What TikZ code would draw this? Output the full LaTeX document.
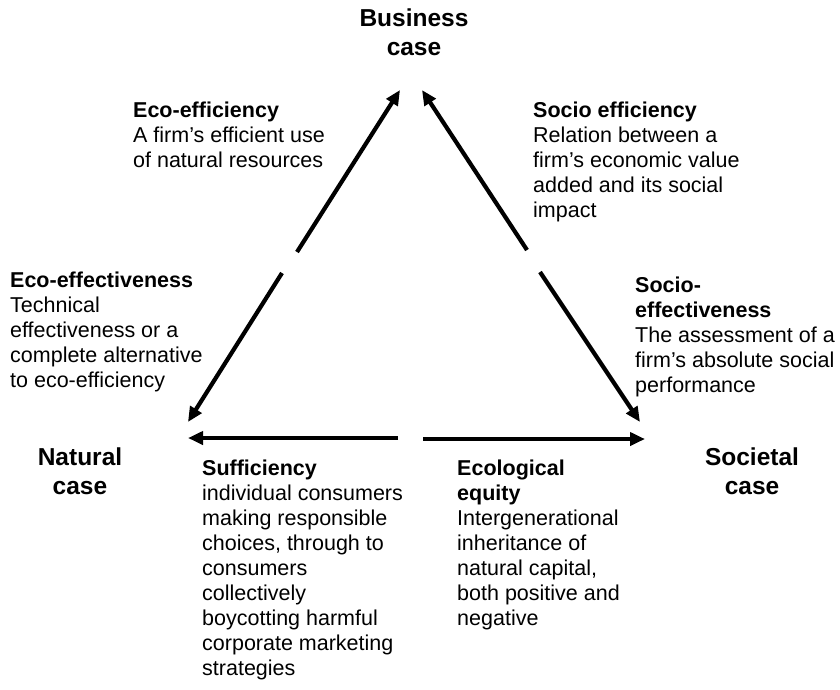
\documentclass[tikz,border=0pt]{standalone}
\usepackage{fontspec}
\setmainfont{Liberation Sans}
\usetikzlibrary{arrows.meta}
\begin{document}
\begin{tikzpicture}[x=1pt,y=-1pt,
  body/.style={anchor=base west, inner sep=0pt, font=\fontsize{21.5}{25}\selectfont},
  corner/.style={anchor=base, inner sep=0pt, font=\fontsize{24.5}{29}\selectfont\bfseries},
  arr/.style={line width=4.2pt, -{Triangle[length=15pt,width=13pt]}}]
\useasboundingbox (0,0) rectangle (840,689);
% corner labels
\node[corner] (business) at (414,26) {\begin{tabular}[t]{@{}c@{}}Business\\case\end{tabular}};
\node[corner] (natural) at (80,465) {\begin{tabular}[t]{@{}c@{}}Natural\\case\end{tabular}};
\node[corner] (societal) at (752,465) {\begin{tabular}[t]{@{}c@{}}Societal\\case\end{tabular}};
% descriptions
\node[body] (ecoeff) at (133,117) {\begin{tabular}[t]{@{}l@{}}\textbf{Eco-efficiency}\\A firm's efficient use\\of natural resources\end{tabular}};
\node[body] (socioeff) at (533,117) {\begin{tabular}[t]{@{}l@{}}\textbf{Socio efficiency}\\Relation between a\\firm's economic value\\added and its social\\impact\end{tabular}};
\node[body] (ecoeffect) at (10,287) {\begin{tabular}[t]{@{}l@{}}\textbf{Eco-effectiveness}\\Technical\\effectiveness or a\\complete alternative\\to eco-efficiency\end{tabular}};
\node[body] (socioeffect) at (635,292) {\begin{tabular}[t]{@{}l@{}}\textbf{Socio-}\\\textbf{effectiveness}\\The assessment of a\\firm's absolute social\\performance\end{tabular}};
\node[body] (suff) at (202,475) {\begin{tabular}[t]{@{}l@{}}\textbf{Sufficiency}\\individual consumers\\making responsible\\choices, through to\\consumers\\collectively\\boycotting harmful\\corporate marketing\\strategies\end{tabular}};
\node[body] (equity) at (457,475) {\begin{tabular}[t]{@{}l@{}}\textbf{Ecological}\\\textbf{equity}\\Intergenerational\\inheritance of\\natural capital,\\both positive and\\negative\end{tabular}};
% arrow end points
\coordinate (lus) at (297,252); \coordinate (lue) at (400,90);
\coordinate (lls) at (282,273); \coordinate (lle) at (188,422);
\coordinate (rus) at (527,250); \coordinate (rue) at (422,90);
\coordinate (rls) at (540,272); \coordinate (rle) at (640,422);
\coordinate (bls) at (398,438); \coordinate (ble) at (188,438);
\coordinate (brs) at (423,439); \coordinate (bre) at (645,439);
\draw[arr] (lus) -- (lue);
\draw[arr] (lls) -- (lle);
\draw[arr] (rus) -- (rue);
\draw[arr] (rls) -- (rle);
\draw[arr] (bls) -- (ble);
\draw[arr] (brs) -- (bre);
\end{tikzpicture}
\end{document}
